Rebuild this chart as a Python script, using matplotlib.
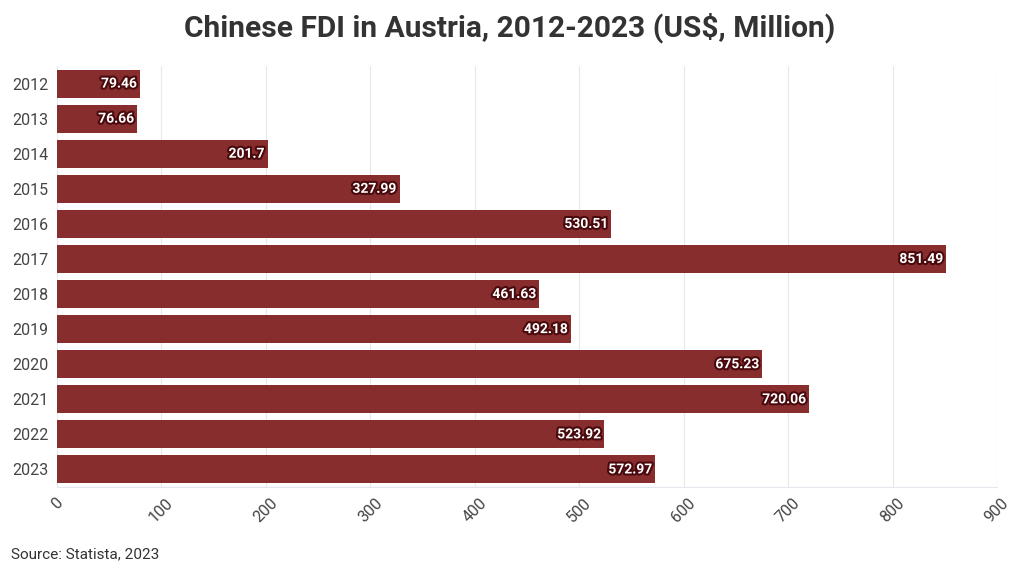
import matplotlib
matplotlib.use('Agg')
import matplotlib.pyplot as plt
import matplotlib.patheffects as pe

years = ['2012', '2013', '2014', '2015', '2016', '2017',
         '2018', '2019', '2020', '2021', '2022', '2023']
fdi = [79.46, 76.66, 201.7, 327.99, 530.51, 851.49,
       461.63, 492.18, 675.23, 720.06, 523.92, 572.97]
xticks = [0, 100, 200, 300, 400, 500, 600, 700, 800, 900]

plt.rcParams['font.family'] = ['Roboto', 'DejaVu Sans']

fig = plt.figure(figsize=(10.2, 5.74), dpi=100)
ax = fig.add_axes([0.0559, 0.1516, 0.9216, 0.7334])

pos = list(range(len(years)))
ax.barh(pos, fdi, height=0.8, color='#882d2e', zorder=2)

for p, v in zip(pos, fdi):
    ax.text(v - 3, p, '{:g}'.format(v), ha='right', va='center',
            color='white', fontsize=10, fontweight='bold', zorder=3,
            path_effects=[pe.withStroke(linewidth=3, foreground='#4a0a0d')])

ax.set_xlim(0, 900)
ax.set_ylim(len(years) - 0.5, -0.5)
ax.set_yticks(pos)
ax.set_yticklabels(years, fontsize=11.5, color='#444444')
ax.set_xticks(xticks)
ax.set_xticklabels([str(x) for x in xticks], rotation=45, fontsize=11.5,
                   color='#444444', ha='center', va='top')
ax.tick_params(axis='both', length=0, pad=6)
ax.grid(axis='x', color='#e8e8e8', linewidth=0.8, zorder=0)
for s in ['top', 'right', 'left']:
    ax.spines[s].set_visible(False)
ax.spines['bottom'].set_color('#e6e6ee')
ax.spines['bottom'].set_linewidth(0.8)

fig.text(0.5, 0.952, 'Chinese FDI in Austria, 2012-2023 (US$, Million)',
         ha='center', va='center', fontsize=21.5, fontweight='bold', color='#333333')
fig.text(0.011, 0.035, 'Source: Statista, 2023', ha='left', va='center',
         fontsize=11, color='#333333')

fig.savefig('out.png', dpi=100)
